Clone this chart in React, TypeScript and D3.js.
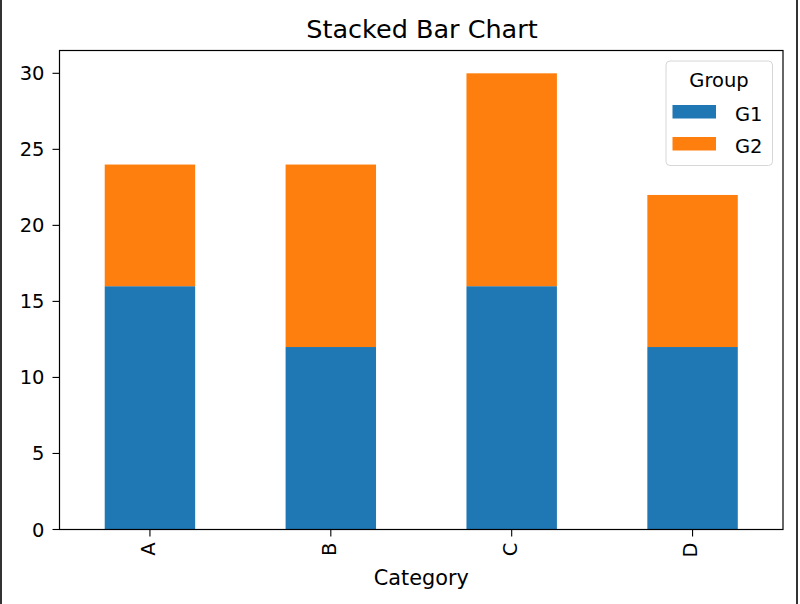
import React from "react";
import * as d3 from "d3";

const categories = ["A", "B", "C", "D"];
const seriesNames = ["G1", "G2"];
const g1Values = [16, 12, 16, 12];
const g2Values = [8, 12, 14, 10];
const yTicks = [0, 5, 10, 15, 20, 25, 30];
const colors = ["#1f77b4", "#ff7f0e"];

const W = 800;
const H = 604;
const M = { left: 59.5, right: 783, top: 50.5, bottom: 529.5 };
const FONT = "DejaVu Sans, sans-serif";
const FS = 19.5;

export default function App() {
  const rows = categories.map((c, i) => ({ cat: c, G1: g1Values[i], G2: g2Values[i] }));
  const stack = d3.stack<any>().keys(seriesNames)(rows);
  const x = d3
    .scaleBand<string>()
    .domain(categories)
    .range([M.left, M.right])
    .paddingInner(0.5)
    .paddingOuter(0.25);
  const yMax = d3.max(stack[stack.length - 1], (d) => d[1]) as number;
  const y = d3.scaleLinear().domain([0, yMax * 1.05]).range([M.bottom, M.top]);

  const legX = 666;
  const legY = 61;
  return (
    <svg
      width={W}
      height={H}
      style={{ position: "absolute", left: 0, top: 0, background: "#fff" }}
      fontFamily={FONT}
    >
      <rect x={0} y={0} width={W} height={H} fill="#fff" />
      <line x1={1} x2={1} y1={0} y2={H} stroke="#333" strokeWidth={2} />
      <line x1={797} x2={797} y1={0} y2={H} stroke="#333" strokeWidth={2} />
      {stack.map((s, si) =>
        s.map((d, i) => (
          <rect
            key={si + "-" + i}
            x={x(categories[i])}
            width={x.bandwidth()}
            y={y(d[1])}
            height={y(d[0]) - y(d[1])}
            fill={colors[si]}
          />
        ))
      )}
      <rect
        x={M.left}
        y={M.top}
        width={M.right - M.left}
        height={M.bottom - M.top}
        fill="none"
        stroke="#000"
        strokeWidth={1.2}
      />
      {yTicks.map((t) => (
        <g key={t} transform={`translate(0,${y(t)})`}>
          <line x1={M.left - 7} x2={M.left} stroke="#000" strokeWidth={1.1} />
          <text x={M.left - 15} dy="0.36em" textAnchor="end" fontSize={FS} fill="#000">
            {t}
          </text>
        </g>
      ))}
      {categories.map((c) => {
        const cx = (x(c) as number) + x.bandwidth() / 2;
        return (
          <g key={c}>
            <line x1={cx} x2={cx} y1={M.bottom} y2={M.bottom + 7} stroke="#000" strokeWidth={1.1} />
            <text
              transform={`translate(${cx},${M.bottom + 13}) rotate(-90)`}
              textAnchor="end"
              dy="0.25em"
              fontSize={FS}
              fill="#000"
            >
              {c}
            </text>
          </g>
        );
      })}
      <text x={(M.left + M.right) / 2} y={585} textAnchor="middle" fontSize={20.8} fill="#000">
        Category
      </text>
      <text x={422} y={37.5} textAnchor="middle" fontSize={25.5} fill="#000">
        Stacked Bar Chart
      </text>
      <g>
        <rect
          x={legX}
          y={legY}
          width={106.5}
          height={104.5}
          rx={4}
          fill="#fff"
          fillOpacity={0.8}
          stroke="#d6d6d6"
          strokeWidth={1}
        />
        <text x={legX + 53} y={86.5} textAnchor="middle" fontSize={FS} fill="#000">
          Group
        </text>
        {seriesNames.map((n, i) => (
          <g key={n} transform={`translate(0,${i * 32})`}>
            <rect x={672.5} y={105} width={43.5} height={13.5} fill={colors[i]} />
            <text x={735} y={120.5} fontSize={FS} fill="#000">
              {n}
            </text>
          </g>
        ))}
      </g>
    </svg>
  );
}
